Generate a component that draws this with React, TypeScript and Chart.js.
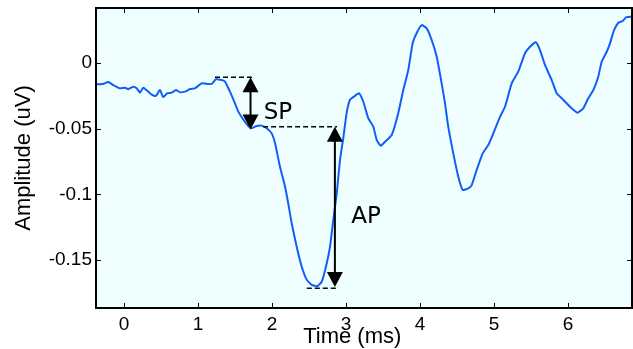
import React, { useEffect, useRef } from 'react';
import { Chart, registerables } from 'chart.js';

Chart.register(...registerables);

// ---- data (time in ms, amplitude in uV) ----
const timeMs = [
  -0.378, -0.284, -0.212, -0.145, -0.054, 0.014, 0.058, 0.126, 0.172, 0.216,
  0.261, 0.328, 0.374, 0.432, 0.486, 0.531, 0.585, 0.645, 0.703, 0.757,
  0.824, 0.892, 0.959, 1.05, 1.139, 1.185, 1.243, 1.32, 1.365, 1.432,
  1.5, 1.545, 1.612, 1.68, 1.726, 1.793, 1.861, 1.928, 1.996, 2.041,
  2.108, 2.176, 2.22, 2.266, 2.334, 2.401, 2.469, 2.536, 2.612, 2.672,
  2.73, 2.784, 2.828, 2.874, 2.919, 2.964, 3.009, 3.054, 3.122, 3.176,
  3.234, 3.301, 3.369, 3.415, 3.469, 3.527, 3.618, 3.707, 3.774, 3.842,
  3.901, 3.964, 4.023, 4.091, 4.158, 4.226, 4.293, 4.338, 4.382, 4.45,
  4.518, 4.577, 4.653, 4.699, 4.766, 4.847, 4.923, 4.991, 5.081, 5.149,
  5.239, 5.328, 5.419, 5.486, 5.564, 5.622, 5.689, 5.78, 5.847, 5.936,
  6.027, 6.126, 6.207, 6.274, 6.342, 6.409, 6.455, 6.523, 6.568, 6.622,
  6.68, 6.739, 6.784, 6.865,
];
const amplitude = [
  -0.0162, -0.016, -0.0145, -0.0168, -0.0193, -0.0188, -0.02, -0.018, -0.0193, -0.0226,
  -0.0188, -0.0218, -0.024, -0.025, -0.0206, -0.026, -0.023, -0.0226, -0.0206, -0.0223,
  -0.0218, -0.0198, -0.0193, -0.0155, -0.016, -0.016, -0.0124, -0.013, -0.0142, -0.0218,
  -0.0307, -0.037, -0.043, -0.048, -0.0497, -0.048, -0.0477, -0.0497, -0.0536, -0.061,
  -0.079, -0.094, -0.107, -0.122, -0.14, -0.155, -0.165, -0.169, -0.17, -0.1666,
  -0.155, -0.14, -0.1196, -0.1, -0.074, -0.057, -0.038, -0.028, -0.025, -0.023,
  -0.0295, -0.042, -0.0485, -0.0586, -0.063, -0.06, -0.0548, -0.038, -0.0206, -0.0053,
  0.015, 0.0238, 0.0289, 0.0264, 0.0175, 0.0048, -0.0155, -0.0307, -0.0485, -0.0688,
  -0.0866, -0.0967, -0.0954, -0.093, -0.0815, -0.0688, -0.0625, -0.0536, -0.041, -0.0333,
  -0.0155, -0.0066, 0.0074, 0.0124, 0.0158, 0.0099, -0.0015, -0.013, -0.023, -0.028,
  -0.0333, -0.0378, -0.0345, -0.0269, -0.0206, -0.0104, 0.001, 0.0086, 0.015, 0.025,
  0.0307, 0.032, 0.0348, 0.0353,
];

const xTickValues = [0, 1, 2, 3, 4, 5, 6];
const xTickLabels = ['0', '1', '2', '3', '4', '5', '6'];
const yTickValues = [0, -0.05, -0.1, -0.15];
const yTickLabels = ['0', '-0.05', '-0.1', '-0.15'];
const xRange = [-0.378, 6.865];
const yRange = [-0.1866, 0.0419];
const xTitle = 'Time (ms)';
const yTitle = 'Amplitude (uV)';

// annotations (data coordinates)
const dashStartX = [1.23, 1.88, 2.47];
const dashEndX = [1.76, 2.88, 2.88];
const dashY = [-0.0109, -0.0485, -0.1716];
const arrowX = [1.71, 2.85];
const arrowTopY = [-0.0109, -0.0485];
const arrowBottomY = [-0.0506, -0.1706];
const labelText = ['SP', 'AP'];
const labelX = [2.08, 3.27];
const labelY = [-0.038, -0.117];

const FONT = "'Liberation Sans', Arial, Helvetica, sans-serif";

const decorPlugin = {
  id: 'decor',
  beforeDraw(chart: any) {
    const { ctx, chartArea: a } = chart;
    ctx.save();
    ctx.fillStyle = 'rgb(239,255,255)';
    ctx.fillRect(a.left, a.top, a.right - a.left, a.bottom - a.top);
    ctx.restore();
  },
  afterDatasetsDraw(chart: any) {
    const { ctx } = chart;
    const xs = chart.scales.x;
    const ys = chart.scales.y;
    ctx.save();
    // dashed reference lines
    ctx.strokeStyle = '#000';
    ctx.lineWidth = 1.5;
    ctx.setLineDash([5, 3]);
    for (let i = 0; i < dashY.length; i++) {
      const py = ys.getPixelForValue(dashY[i]);
      ctx.beginPath();
      ctx.moveTo(xs.getPixelForValue(dashStartX[i]), py);
      ctx.lineTo(xs.getPixelForValue(dashEndX[i]), py);
      ctx.stroke();
    }
    ctx.setLineDash([]);
    // double-headed arrows
    const headL = 15;
    const headW = 8;
    ctx.fillStyle = '#000';
    ctx.lineWidth = 2;
    for (let i = 0; i < arrowX.length; i++) {
      const px = xs.getPixelForValue(arrowX[i]);
      const t = ys.getPixelForValue(arrowTopY[i]);
      const b = ys.getPixelForValue(arrowBottomY[i]);
      ctx.beginPath();
      ctx.moveTo(px, t + headL - 2);
      ctx.lineTo(px, b - headL + 2);
      ctx.stroke();
      ctx.beginPath();
      ctx.moveTo(px, t);
      ctx.lineTo(px - headW, t + headL);
      ctx.lineTo(px + headW, t + headL);
      ctx.closePath();
      ctx.fill();
      ctx.beginPath();
      ctx.moveTo(px, b);
      ctx.lineTo(px - headW, b - headL);
      ctx.lineTo(px + headW, b - headL);
      ctx.closePath();
      ctx.fill();
    }
    // labels
    ctx.font = "23px 'DejaVu Sans', Verdana, sans-serif";
    ctx.textAlign = 'center';
    ctx.textBaseline = 'middle';
    for (let i = 0; i < labelText.length; i++) {
      ctx.fillText(labelText[i], xs.getPixelForValue(labelX[i]), ys.getPixelForValue(labelY[i]));
    }
    ctx.restore();
  },
  afterDraw(chart: any) {
    const { ctx, chartArea: a } = chart;
    const xs = chart.scales.x;
    const ys = chart.scales.y;
    ctx.save();
    ctx.strokeStyle = '#000';
    ctx.lineWidth = 1;
    const tl = 5;
    for (const t of xs.ticks) {
      const px = Math.round(xs.getPixelForValue(t.value)) + 0.5;
      ctx.beginPath();
      ctx.moveTo(px, a.bottom);
      ctx.lineTo(px, a.bottom - tl);
      ctx.moveTo(px, a.top);
      ctx.lineTo(px, a.top + tl);
      ctx.stroke();
    }
    for (const t of ys.ticks) {
      const py = Math.round(ys.getPixelForValue(t.value)) + 0.5;
      ctx.beginPath();
      ctx.moveTo(a.left, py);
      ctx.lineTo(a.left + tl, py);
      ctx.moveTo(a.right, py);
      ctx.lineTo(a.right - tl, py);
      ctx.stroke();
    }
    ctx.lineWidth = 2;
    ctx.strokeRect(a.left, a.top, a.right - a.left, a.bottom - a.top);
    // x axis title
    ctx.fillStyle = '#000';
    ctx.font = `22px ${FONT}`;
    ctx.textAlign = 'center';
    ctx.textBaseline = 'middle';
    ctx.fillText(xTitle, a.left + (a.right - a.left) * 0.478, 336.5);
    ctx.restore();
  },
};

export default function App() {
  const canvasRef = useRef<HTMLCanvasElement | null>(null);

  useEffect(() => {
    const canvas = canvasRef.current;
    if (!canvas) return;
    const points = timeMs.map((t, i) => ({ x: t, y: amplitude[i] }));
    const chart = new Chart(canvas, {
      type: 'line',
      data: {
        datasets: [
          {
            data: points,
            borderColor: 'rgb(18,94,245)',
            borderWidth: 2,
            pointRadius: 0,
            tension: 0.15,
            fill: false,
          },
        ],
      },
      options: {
        animation: false,
        responsive: true,
        maintainAspectRatio: false,
        layout: { padding: { top: 8, right: 1, left: 0, bottom: 0 } },
        plugins: { legend: { display: false }, tooltip: { enabled: false } },
        scales: {
          x: {
            type: 'linear',
            min: xRange[0],
            max: xRange[1],
            grid: { display: false, drawTicks: false },
            border: { display: false },
            afterBuildTicks: (scale: any) => {
              scale.ticks = xTickValues.map((v) => ({ value: v }));
            },
            afterFit: (scale: any) => {
              scale.height = 41;
              scale.paddingLeft = 0;
              scale.paddingRight = 0;
            },
            ticks: {
              padding: 5,
              color: '#000',
              maxRotation: 0,
              autoSkip: false,
              font: { family: FONT, size: 19 },
              callback: (v: any) => {
                const i = xTickValues.indexOf(Number(v));
                return i >= 0 ? xTickLabels[i] : '';
              },
            },
          },
          y: {
            type: 'linear',
            min: yRange[0],
            max: yRange[1],
            grid: { display: false, drawTicks: false },
            border: { display: false },
            afterBuildTicks: (scale: any) => {
              scale.ticks = yTickValues.map((v) => ({ value: v }));
            },
            afterFit: (scale: any) => {
              scale.width = 96;
              scale.paddingTop = 0;
              scale.paddingBottom = 0;
            },
            title: {
              display: true,
              text: yTitle,
              color: '#000',
              padding: { top: 11, bottom: 0 },
              font: { family: FONT, size: 22, lineHeight: 1.2 },
            },
            ticks: {
              padding: 4,
              color: '#000',
              autoSkip: false,
              font: { family: FONT, size: 19 },
              callback: (v: any) => {
                const i = yTickValues.findIndex((t) => Math.abs(t - Number(v)) < 1e-9);
                return i >= 0 ? yTickLabels[i] : '';
              },
            },
          },
        },
      },
      plugins: [decorPlugin],
    });
    return () => chart.destroy();
  }, []);

  return (
    <div style={{ position: 'fixed', left: 0, top: 0, width: 633, height: 349, background: '#fff' }}>
      <canvas ref={canvasRef} />
    </div>
  );
}
